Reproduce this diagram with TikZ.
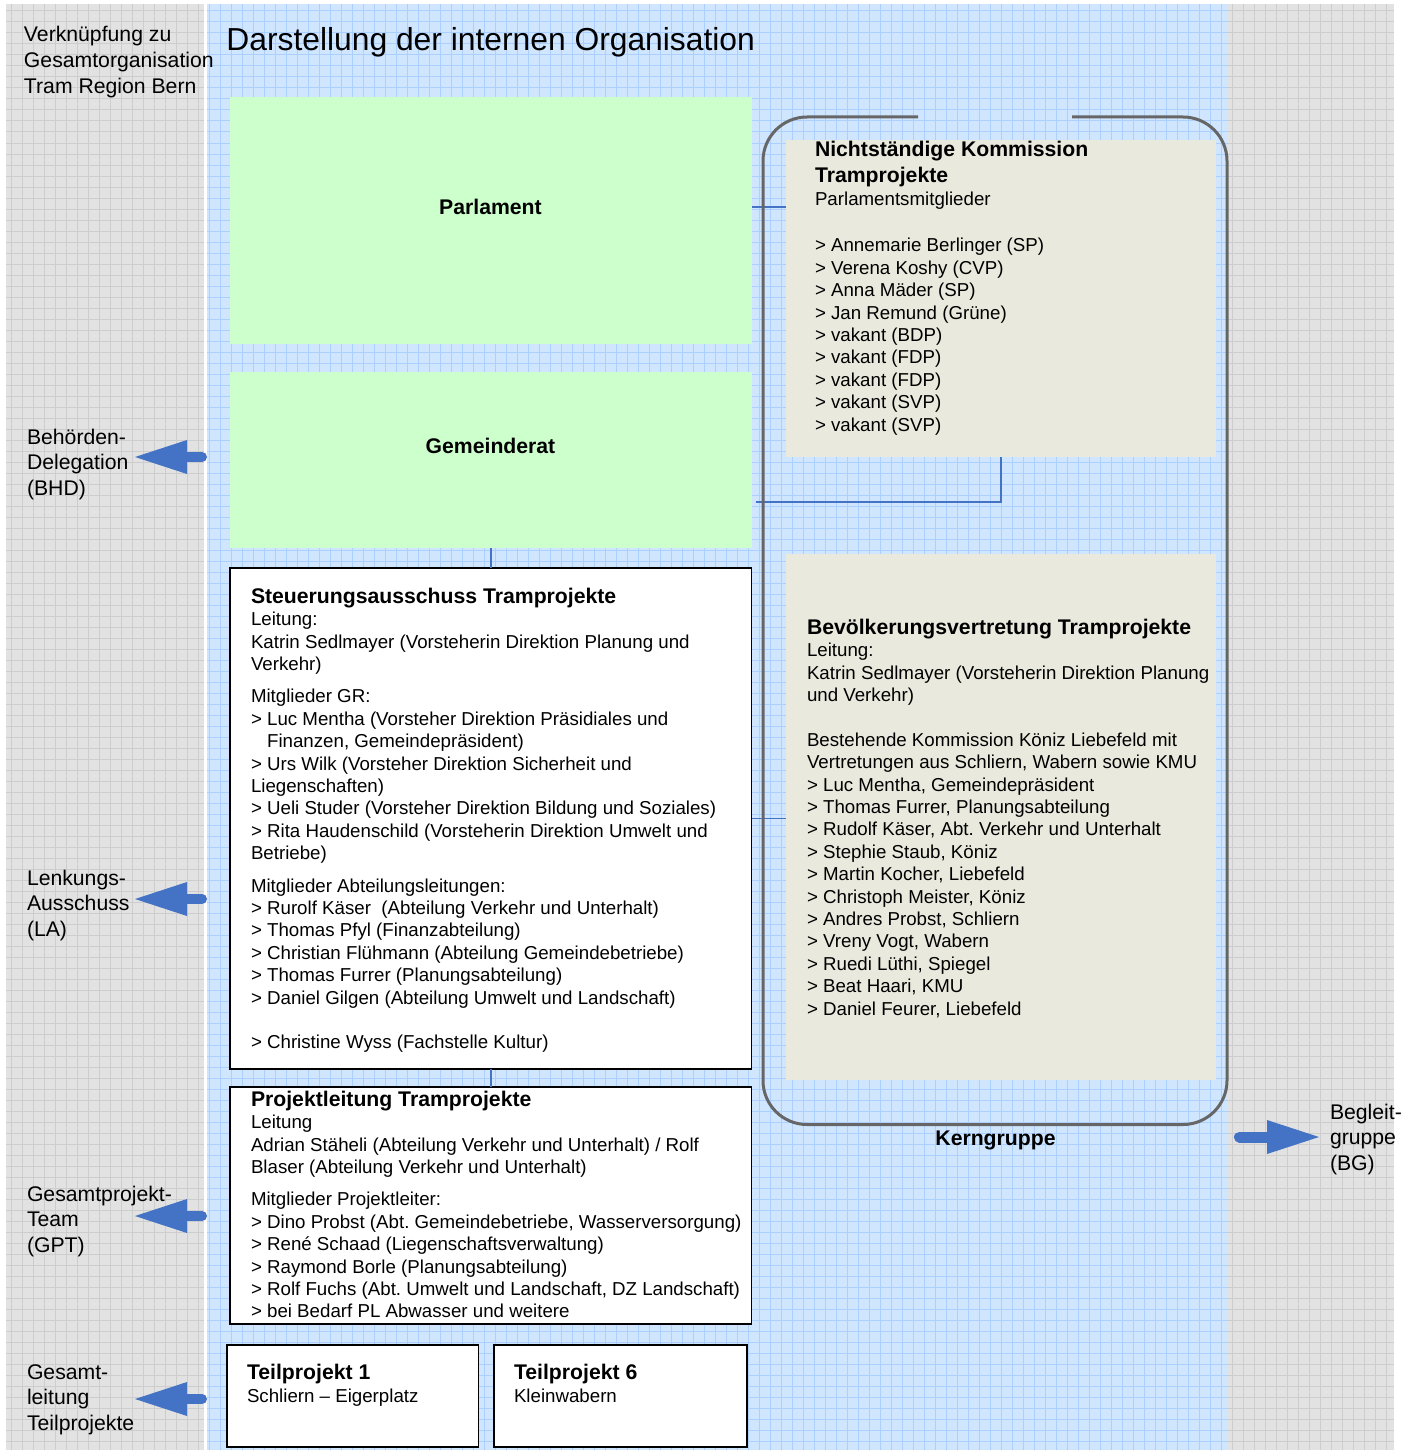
\documentclass[tikz,border=0pt]{standalone}
\usepackage{fontspec}
\setmainfont{Liberation Sans}
\usetikzlibrary{fit}
\definecolor{grayBg}{HTML}{E2E2E2}
\definecolor{grayGrid}{HTML}{CDCDCD}
\definecolor{blueBg}{HTML}{D0E6FF}
\definecolor{blueGrid}{HTML}{ABCFFF}
\definecolor{greenBox}{HTML}{CCFFCC}
\definecolor{beigeBox}{HTML}{E9EADD}
\definecolor{connBlue}{HTML}{4472C4}
\definecolor{kernGray}{HTML}{666666}
\newcommand\fBody{\fontsize{9.35}{11.2}\selectfont}
\newcommand\fHead{\fontsize{10.6}{12}\selectfont\bfseries}
\newcommand\fLbl{\fontsize{10.6}{12.8}\selectfont}
\newcommand\fTitle{\fontsize{15.9}{19}\selectfont}
\frenchspacing
\begin{document}
\begin{tikzpicture}[x=0.5pt,y=-0.5pt,
  txt/.style={inner sep=0pt, outer sep=0pt, anchor=north west, align=left, font=\fBody},
  lbl/.style={inner sep=0pt, outer sep=0pt, anchor=north west, align=left, font=\fLbl},
  hd/.style={inner sep=0pt, outer sep=0pt, font=\fHead},
  wbox/.style={draw=black, line width=0.75pt, fill=white, inner sep=0pt, outer sep=0pt},
  gbox/.style={fill=greenBox, inner sep=0pt, outer sep=0pt},
  bbox/.style={fill=beigeBox, inner sep=0pt, outer sep=0pt},
  conn/.style={draw=connBlue, line width=0.75pt},
  gridlines/.style={line width=0.5pt, xstep=5.5pt, ystep=5.5pt},
  larrowpic/.pic={
    \draw[line width=5pt, line cap=round, connBlue] (-5,0) -- (-22,0);
    \fill[connBlue] (-20,-17) -- (-20,17) -- (-72,0) -- cycle;},
  rarrowpic/.pic={
    \draw[line width=5.5pt, line cap=round, connBlue] (5.5,0) -- (35,0);
    \fill[connBlue] (33,-17) -- (33,17) -- (85,0) -- cycle;}
]
\useasboundingbox (0,0) rectangle (1411,1450);
\fill[white] (0,0) rectangle (1411,1450);
% backgrounds
\fill[grayBg] (6,4) rectangle (1394,1450);
\draw[grayGrid, gridlines] (6,4) grid (1394,1450);
\fill[white] (204,4) rectangle (207,1450);
\fill[blueBg] (207,4) rectangle (1228,1450);
\draw[blueGrid, gridlines] (207,4) grid (1228,1450);

% title and side labels
\node[inner sep=0pt, anchor=base west, font=\fTitle] (title) at (226,51) {Darstellung der internen Organisation};
\node[lbl] (lTop) at (24,26.5) {Verknüpfung zu\\Gesamtorganisation\\Tram Region Bern};
\node[lbl] (lBHD) at (27,429) {Behörden-\\Delegation\\(BHD)};
\node[lbl] (lLA) at (27,870) {Lenkungs-\\Ausschuss\\(LA)};
\node[lbl] (lGPT) at (27,1186) {Gesamtprojekt-\\Team\\(GPT)};
\node[lbl] (lTP) at (27,1364.5) {Gesamt-\\leitung\\Teilprojekte};
\node[lbl] (lBG) at (1330,1104) {Begleit-\\gruppe\\(BG)};

% boxes
\node[gbox, fit={(230,97.5) (751.5,343.5)}] (parl) {};
\node[gbox, fit={(230,372) (751.5,548)}] (gem) {};
\node[wbox, fit={(230,568) (751.5,1069)}] (st) {};
\node[wbox, fit={(230,1087) (751.5,1324)}] (pl) {};
\node[wbox, fit={(227,1345) (478.5,1447)}] (tp1) {};
\node[wbox, fit={(494,1345) (747,1447)}] (tp6) {};
\node[bbox, fit={(786,140) (1215.5,457)}] (kom) {};
\node[bbox, fit={(786,554) (1215.5,1080)}] (bev) {};

\node[hd] (parlT) at (490.5,207) {Parlament};
\node[hd] (gemT) at (490.5,446) {Gemeinderat};

% connectors
\coordinate (kelbow) at (756,502);
\draw[conn] (parlT -| parl.east) -- (parlT -| kom.west);
\draw[conn] (kom.south) |- (kelbow);
\draw[conn] (gem.south) -- (st.north);
\draw[conn] (st.south) -- (pl.north);
\draw[conn] (st.east) -- (st.east -| bev.west);

% Kerngruppe frame
\draw[line width=1.5pt, kernGray, rounded corners=22pt] (918,117) -- (763,117) -- (763,1124.5) -- (1227,1124.5) -- (1227,117) -- (1072,117);
\node[hd, anchor=base] (kernT) at (995.5,1145.5) {Kerngruppe};

% texts
\node[txt] (stT) at (251,588) {{\fHead Steuerungsausschuss Tramprojekte}\\
Leitung:\\
Katrin Sedlmayer (Vorsteherin Direktion Planung und\\
Verkehr)\\[5pt]
Mitglieder GR:\\
> Luc Mentha (Vorsteher Direktion Präsidiales und\\
\hphantom{> }Finanzen, Gemeindepräsident)\\
> Urs Wilk (Vorsteher Direktion Sicherheit und\\
Liegenschaften)\\
> Ueli Studer (Vorsteher Direktion Bildung und Soziales)\\
> Rita Haudenschild (Vorsteherin Direktion Umwelt und\\
Betriebe)\\[5pt]
Mitglieder Abteilungsleitungen:\\
> Rurolf Käser~ (Abteilung Verkehr und Unterhalt)\\
> Thomas Pfyl (Finanzabteilung)\\
> Christian Flühmann (Abteilung Gemeindebetriebe)\\
> Thomas Furrer (Planungsabteilung)\\
> Daniel Gilgen (Abteilung Umwelt und Landschaft)\\[11.2pt]
> Christine Wyss (Fachstelle Kultur)};

\node[txt] (plT) at (251,1091) {{\fHead Projektleitung Tramprojekte}\\
Leitung\\
Adrian Stäheli (Abteilung Verkehr und Unterhalt) / Rolf\\
Blaser (Abteilung Verkehr und Unterhalt)\\[5pt]
Mitglieder Projektleiter:\\
> Dino Probst (Abt. Gemeindebetriebe, Wasserversorgung)\\
> René Schaad (Liegenschaftsverwaltung)\\
> Raymond Borle (Planungsabteilung)\\
> Rolf Fuchs (Abt. Umwelt und Landschaft, DZ Landschaft)\\
> bei Bedarf PL Abwasser und weitere};

\node[txt] (komT) at (815,141.5) {{\fHead Nichtständige Kommission}\\[1.8pt]
{\fHead Tramprojekte}\\[0.3pt]
Parlamentsmitglieder\\[11.8pt]
> Annemarie Berlinger (SP)\\
> Verena Koshy (CVP)\\
> Anna Mäder (SP)\\
> Jan Remund (Grüne)\\
> vakant (BDP)\\
> vakant (FDP)\\
> vakant (FDP)\\
> vakant (SVP)\\
> vakant (SVP)};

\node[txt] (bevT) at (807,619) {{\fHead Bevölkerungsvertretung Tramprojekte}\\
Leitung:\\
Katrin Sedlmayer (Vorsteherin Direktion Planung\\
und Verkehr)\\[11.2pt]
Bestehende Kommission Köniz Liebefeld mit\\
Vertretungen aus Schliern, Wabern sowie KMU\\
> Luc Mentha, Gemeindepräsident\\
> Thomas Furrer, Planungsabteilung\\
> Rudolf Käser, Abt. Verkehr und Unterhalt\\
> Stephie Staub, Köniz\\
> Martin Kocher, Liebefeld\\
> Christoph Meister, Köniz\\
> Andres Probst, Schliern\\
> Vreny Vogt, Wabern\\
> Ruedi Lüthi, Spiegel\\
> Beat Haari, KMU\\
> Daniel Feurer, Liebefeld};

\node[txt] (tp1T) at (247,1364) {{\fHead Teilprojekt 1}\\[0.5pt]
Schliern – Eigerplatz};
\node[txt] (tp6T) at (514,1364) {{\fHead Teilprojekt 6}\\[0.5pt]
Kleinwabern};

% block arrows
\pic at (207,457) {larrowpic};
\pic at (207,899) {larrowpic};
\pic at (207,1216) {larrowpic};
\pic at (207,1399) {larrowpic};
\pic at (1234,1137) {rarrowpic};
\end{tikzpicture}
\end{document}
